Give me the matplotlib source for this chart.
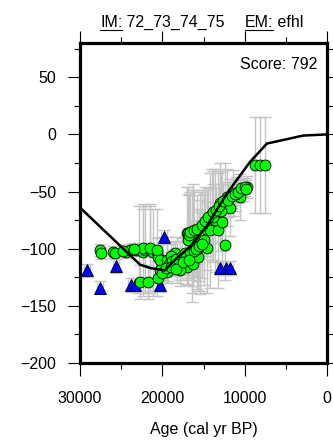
import matplotlib
matplotlib.use('Agg')
import matplotlib.pyplot as plt
from matplotlib.lines import Line2D

plt.rcParams['font.family'] = ['Liberation Sans', 'DejaVu Sans']

# model curve
model_age = [30000, 22700, 21400, 19700, 18500, 16600, 14600, 12100, 9350, 7300, 2900, 0]
model_rsl = [-64, -114, -117, -119, -110, -98, -80, -51, -24, -8, -1, 0]

# green data
green_age = [27600, 27450, 26000, 25700, 24400, 23900, 23200, 22800, 22300, 22100,
             21500, 21100, 20600, 20500, 20000, 22700, 21700, 20500, 19900, 19400,
             18200, 17000, 16400, 17000, 16300, 16400, 15400, 14600, 22300, 21500,
             20600, 20300, 19400, 18700, 17800, 17000, 16300, 15700, 14600, 15400,
             16900, 16900, 14200, 13200, 13600, 12800, 13000, 12400, 12100, 11400,
             10600, 9700, 10600, 12400, 20300, 19400, 17900, 8700, 8100, 7500,
             11800, 14000, 13800, 12900, 11000, 10200, 15000, 15800, 18500, 19000,
             23500, 24800, 19200, 18800, 18300, 17600, 17300, 16700, 16100, 15900,
             15600, 15200, 16800, 16600, 16100, 15800, 15200, 14800, 14400, 13900,
             13500, 13100, 12600, 12000, 11600, 11200, 10800, 10400, 10000, 9900,
             20100, 19600, 18900, 18400, 17500, 16800]
green_rsl = [-101, -104, -103, -104, -103, -101, -101, -101, -103, -101,
             -101, -103, -103, -107, -114, -129, -129, -126, -119, -110,
             -110, -107, -112, -86, -88, -94, -95, -84, -99, -99,
             -101, -110, -110, -108, -113, -116, -113, -107, -99, -97,
             -86, -92, -84, -84, -75, -77, -60, -60, -55, -51,
             -49, -46, -55, -97, -119, -120, -119, -27, -27, -27,
             -64, -70, -72, -67, -52, -48, -92, -100, -104, -106,
             -100, -102, -113, -111, -109, -106, -104, -103, -102, -100,
             -98, -96, -88, -85, -84, -83, -79, -76, -72, -68,
             -66, -63, -58, -57, -54, -52, -50, -47, -46, -48,
             -121, -117, -116, -118, -112, -110]
green_age_err = [400] * 7 + [500] * 7 + [400] * 14 + [500] * 3 + [400] * 75
green_rsl_err = [5, 5, 5, 5, 5, 5, 5, 38, 38, 38,
                 38, 38, 38, 10, 8, 15, 15, 10, 8, 20,
                 20, 20, 35, 40, 45, 45, 45, 35, 38, 38,
                 10, 20, 20, 15, 20, 15, 20, 30, 40, 40,
                 40, 40, 50, 50, 45, 45, 35, 35, 25, 20,
                 10, 10, 20, 30, 8, 8, 8, 42, 42, 42,
                 25, 40, 40, 35, 15, 10, 40, 35, 10, 10,
                 5, 5, 10, 10, 10, 15, 15, 20, 25, 25,
                 30, 30, 35, 35, 35, 30, 30, 30, 25, 25,
                 20, 20, 15, 15, 10, 10, 10, 8, 8, 8,
                 6, 6, 6, 6, 8, 8]

# blue triangles
blue_age = [29150, 27570, 25630, 23800, 23320, 20280, 19800, 13000, 12270, 11780]
blue_rsl = [-119, -134, -115, -132, -132, -132, -90, -117, -117, -117]
blue_age_err = [400] * 10
blue_rsl_err = [6] * 10

fig = plt.figure(figsize=(3.33, 4.40), dpi=100)
ax = fig.add_axes([0.2402, 0.175, 0.742, 0.7273])

ax.errorbar(green_age, green_rsl, xerr=green_age_err, yerr=green_rsl_err,
            fmt='none', ecolor='#c4c4c4', elinewidth=1.0, capsize=4.5, zorder=1)
ax.errorbar(blue_age, blue_rsl, xerr=blue_age_err, yerr=blue_rsl_err,
            fmt='none', ecolor='#c4c4c4', elinewidth=1.0, capsize=4.5, zorder=1)
ax.plot(blue_age, blue_rsl, '^', ms=9, mfc='#0000ff', mec='black', mew=0.6,
        ls='none', zorder=2)
ax.plot(green_age, green_rsl, 'o', ms=7.8, mfc='#00ff00', mec='black', mew=0.6,
        ls='none', zorder=3)
ax.plot(model_age, model_rsl, color='black', lw=1.8, zorder=4)

ax.set_xlim(30000, 0)
ax.set_ylim(-200, 80)
ax.set_xticks([30000, 20000, 10000, 0])
ax.set_xticks([25000, 15000, 5000], minor=True)
ax.set_yticks([-200, -150, -100, -50, 0, 50])
ax.set_yticks([-175, -125, -75, -25, 25, 75], minor=True)
ax.tick_params(which='both', direction='out', width=0.8, labelsize=11.5,
               top=True, right=True)
ax.tick_params(axis='x', pad=11)
ax.tick_params(axis='y', pad=8)
ax.tick_params(which='major', length=9)
ax.tick_params(which='minor', length=4.5)
for s in ax.spines.values():
    s.set_linewidth(2.3)

ax.set_xlabel('Age (cal yr BP)', fontsize=11.5, labelpad=12)
ax.text(0.96, 0.955, 'Score: 792', transform=ax.transAxes, ha='right', va='top',
        fontsize=11.5)

# top title with underlined labels
parts = [('IM:', True), (' 72_73_74_75', False), ('    ', False),
         ('EM:', True), (' efhl', False)]
x0 = 100 / 333
y0 = 1 - 27 / 440
fig.canvas.draw()
r = fig.canvas.get_renderer()
xpos = x0
for txt, ul in parts:
    t = fig.text(xpos, y0, txt, fontsize=11.5, ha='left', va='baseline')
    if txt.strip():
        w = t.get_window_extent(renderer=r).width / fig.bbox.width
    else:
        w = 20 / 333
    if ul:
        yl = y0 - 2.5 / 440
        fig.add_artist(Line2D([xpos, xpos + w], [yl, yl],
                              transform=fig.transFigure, color='black', lw=0.8))
    xpos += w

fig.savefig('out.png', dpi=100)
